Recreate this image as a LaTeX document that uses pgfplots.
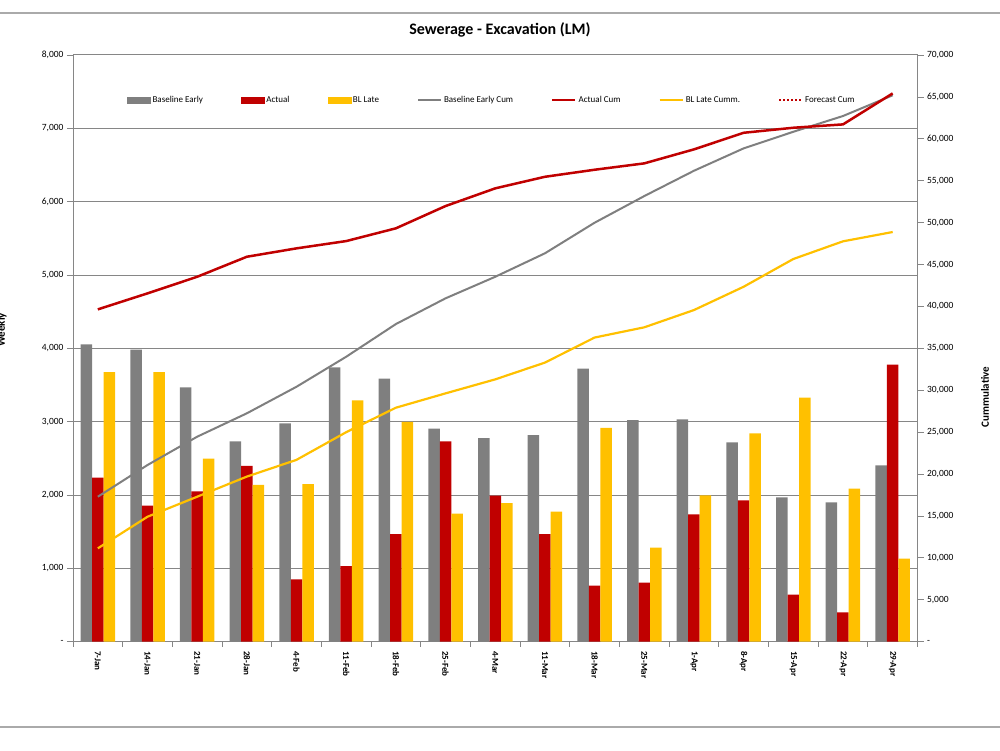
\documentclass[border=0pt]{standalone}
\usepackage{fontspec}
\setmainfont{Carlito}
\usepackage{pgfplots}
\usepackage{pgfplotstable}
\pgfplotsset{compat=1.18}
\definecolor{bargrey}{RGB}{127,127,127}
\definecolor{barred}{RGB}{192,0,0}
\definecolor{baryellow}{RGB}{255,192,0}
\definecolor{gridc}{RGB}{134,134,134}
\definecolor{framec}{RGB}{170,170,170}

\pgfplotstableread{
x BE A BL BEC AC BLC
0 4055 2236 3677 17300 39650 11140
1 3981 1854 3677 21080 41560 14910
2 3469 2051 2495 24460 43540 17300
3 2732 2396 2137 27250 45930 19700
4 2978 851 2150 30420 46930 21700
5 3741 1032 3291 34000 47800 25000
6 3586 1468 2996 37900 49320 27920
7 2904 2732 1745 40970 51980 29630
8 2777 1991 1891 43540 54090 31300
9 2818 1468 1773 46340 55470 33300
10 3722 764 2914 49990 56310 36290
11 3023 805 1282 53170 57070 37510
12 3032 1737 1996 56190 58740 39570
13 2719 1928 2842 58860 60720 42350
14 1969 641 3327 60840 61320 45660
15 1901 401 2086 62720 61720 47770
16 2405 3777 1132 65190 65420 48880
}\data

\begin{document}
\begin{tikzpicture}
\path[use as bounding box] (0pt,0pt) rectangle (1000pt,750pt);
\draw[framec, line width=1.2pt] (0pt,737pt) -- (1000pt,737pt);
\draw[framec, line width=1.2pt] (0pt,23pt) -- (1000pt,23pt);
\node[font=\fontsize{16}{19}\selectfont\bfseries] at (500pt,720pt) {Sewerage - Excavation (LM)};
\node[rotate=90, anchor=base, font=\bfseries\fontsize{11}{13}\selectfont] at (5pt,420pt) {Weekly};
\node[rotate=90, font=\bfseries\fontsize{11}{13}\selectfont] at (985pt,353pt) {Cummulative};

\begin{axis}[
  at={(73pt,108.3pt)}, anchor=south west, scale only axis,
  width=844.5pt, height=586.7pt,
  xmin=-0.5, xmax=16.5, ymin=0, ymax=8000,
  ybar=0pt, bar width=11.5pt,
  axis line style={gridc, line width=1pt},
  ymajorgrids, grid style={gridc, line width=1pt},
  tick pos=left, tick align=outside,
  major tick length=6pt, minor tick length=5pt,
  tick style={gridc, line width=0.8pt},
  xtick={0,...,16},
  xticklabels={7-Jan,14-Jan,21-Jan,28-Jan,4-Feb,11-Feb,18-Feb,25-Feb,4-Mar,11-Mar,18-Mar,25-Mar,1-Apr,8-Apr,15-Apr,22-Apr,29-Apr},
  major x tick style={draw=none},
  minor xtick={-0.5,0.5,...,16.5},
  xticklabel style={rotate=-90, anchor=west, font=\bfseries\fontsize{9}{10}\selectfont},
  scaled y ticks=false,
  ytick={0,1000,...,8000},
  yticklabels={-,{1,000},{2,000},{3,000},{4,000},{5,000},{6,000},{7,000},{8,000}},
  yticklabel style={font=\fontsize{9.5}{11}\selectfont},
]
\addplot[fill=bargrey, draw=none] table[x=x,y=BE]{\data};
\addplot[fill=barred, draw=none] table[x=x,y=A]{\data};
\addplot[fill=baryellow, draw=none] table[x=x,y=BL]{\data};
\end{axis}

\begin{axis}[
  at={(73pt,108.3pt)}, anchor=south west, scale only axis,
  width=844.5pt, height=586.7pt,
  xmin=-0.5, xmax=16.5, ymin=0, ymax=70000,
  axis x line=none, axis y line*=right,
  axis line style={gridc, line width=1pt, -},
  tick align=outside, major tick length=6pt,
  tick style={gridc, line width=0.8pt},
  scaled y ticks=false,
  ytick={0,5000,...,70000},
  yticklabels={-,{5,000},{10,000},{15,000},{20,000},{25,000},{30,000},{35,000},{40,000},{45,000},{50,000},{55,000},{60,000},{65,000},{70,000}},
  yticklabel style={font=\fontsize{9.5}{11}\selectfont},
  legend image code/.code={\draw[#1] (0pt,0pt) -- (23pt,0pt);},
  legend style={at={(0.0639,0.9233)}, anchor=west, draw=none, fill=none, inner sep=0pt,
    font=\fontsize{9}{10}\selectfont,
    /tikz/every even column/.append style={column sep=36pt}},
  legend columns=7,
]
\addlegendimage{legend image code/.code={\fill[bargrey] (0pt,-3pt) rectangle (23pt,3pt);}}
\addlegendentry{Baseline Early}
\addlegendimage{legend image code/.code={\fill[barred] (0pt,-3pt) rectangle (23pt,3pt);}}
\addlegendentry{Actual}
\addlegendimage{legend image code/.code={\fill[baryellow] (0pt,-3pt) rectangle (23pt,3pt);}}
\addlegendentry{BL Late}
\addplot[color=bargrey, line width=2pt, mark=none, line join=round] table[x=x,y=BEC]{\data};
\addlegendentry{Baseline Early Cum}
\addplot[color=barred, line width=2.5pt, mark=none, line join=round] table[x=x,y=AC]{\data};
\addlegendentry{Actual Cum}
\addplot[color=baryellow, line width=2.2pt, mark=none, line join=round] table[x=x,y=BLC]{\data};
\addlegendentry{BL Late Cumm.}
\addlegendimage{color=barred, line width=2pt, dash pattern=on 2pt off 2pt}
\addlegendentry{Forecast Cum}
\end{axis}
\end{tikzpicture}
\end{document}
